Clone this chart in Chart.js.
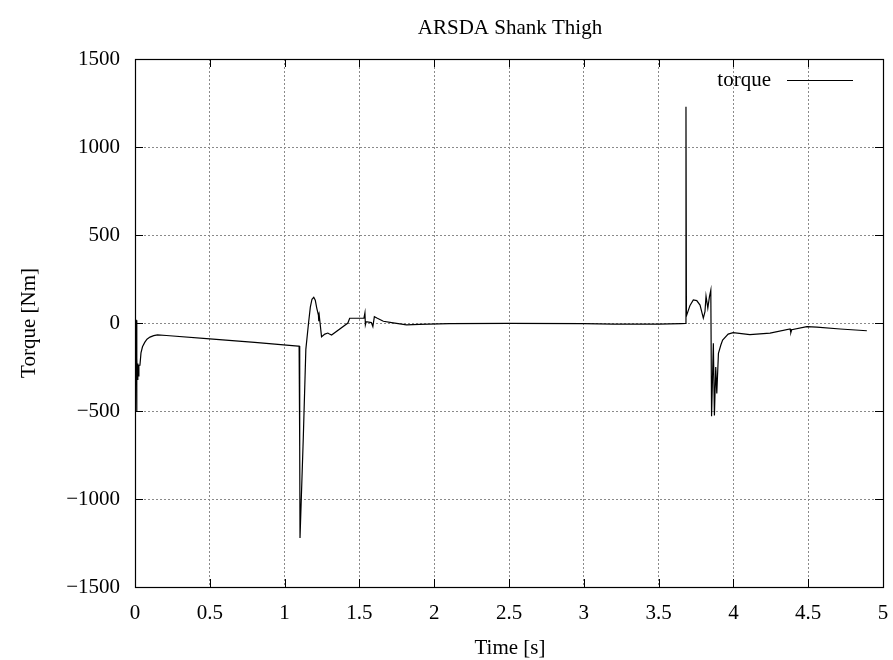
<!DOCTYPE html>
<html>
<head>
<meta charset="utf-8">
<script src="https://cdn.jsdelivr.net/npm/chart.js@4"></script>
<style>
  html, body { margin: 0; padding: 0; background: #ffffff; }
  canvas { display: block; }
</style>
</head>
<body>
<canvas id="c" width="893" height="660"></canvas>
<script>
// Joint torque trace (shank-thigh), sampled over time
const timeSeconds = [
  0.000, 0.008, 0.011, 0.013, 0.016, 0.019, 0.022, 0.026, 0.033, 0.040,
  0.050, 0.065, 0.080, 0.100, 0.125, 0.150, 0.210, 0.500, 0.800, 1.090,
  1.097, 1.101, 1.103, 1.125, 1.142, 1.160, 1.172, 1.183, 1.195, 1.205,
  1.215, 1.226, 1.228, 1.229, 1.232, 1.247, 1.269, 1.289, 1.300, 1.314,
  1.423, 1.435, 1.500, 1.530, 1.537, 1.540, 1.545, 1.580, 1.590, 1.600,
  1.620, 1.660, 1.715, 1.815, 1.900, 2.100, 2.500, 3.000, 3.200, 3.500,
  3.650, 3.680, 3.683, 3.686, 3.710, 3.732, 3.755, 3.777, 3.799, 3.810,
  3.817, 3.829, 3.840, 3.849, 3.854, 3.866, 3.873, 3.882, 3.889, 3.900,
  3.916, 3.928, 3.965, 3.998, 4.110, 4.245, 4.379, 4.384, 4.390, 4.491,
  4.558, 4.714, 4.892
];
const torqueNm = [
    20,    15,  -500,  -200,  -320,  -230,  -300,  -240,  -240,  -170,
  -135,  -110,   -92,   -80,   -72,   -68,   -71,   -90,  -110,  -131,
  -131,  -700, -1222,  -650,  -150,     0,    90,   135,   146,   130,
    85,    45,    60,    10,    40,   -78,   -63,   -57,   -62,   -68,
     0,    27,    27,    27,    58,   -10,     7,     2,   -21,    36,
    27,    10,     2,   -11,    -8,    -4,    -2,    -3,    -6,    -6,
    -3,    -2,  1228,    40,   100,   131,   127,   102,    28,    64,
   153,    85,   150,   187,  -530,  -115,  -525,  -250,  -400,  -172,
  -125,   -97,   -63,   -55,   -66,   -57,   -34,   -55,   -38,   -21,
   -23,   -34,   -44
];

const xTickLabels = ['0', '0.5', '1', '1.5', '2', '2.5', '3', '3.5', '4', '4.5', '5'];
const yTickLabels = ['\u22121500', '\u22121000', '\u2212500', '0', '500', '1000', '1500'];

const seriesName = 'torque';
const chartTitle = 'ARSDA Shank Thigh';
const xAxisTitle = 'Time [s]';
const yAxisTitle = 'Torque [Nm]';

const FONT = '"Liberation Serif", "DejaVu Serif", serif';
const FONT_SIZE = 21;

const points = timeSeconds.map((t, i) => ({ x: t, y: torqueNm[i] }));

// Full box around the plot with small inward ticks on all four sides
const framePlugin = {
  id: 'frame',
  beforeDatasetsDraw(chart) {
    const { ctx, chartArea: a, scales } = chart;
    const len = 8;
    ctx.save();
    ctx.strokeStyle = '#000';
    ctx.lineWidth = 1;
    ctx.beginPath();
    scales.x.ticks.forEach(tk => {
      const px = Math.round(scales.x.getPixelForValue(tk.value)) + 0.5;
      ctx.moveTo(px, a.bottom); ctx.lineTo(px, a.bottom - len);
      ctx.moveTo(px, a.top); ctx.lineTo(px, a.top + len);
    });
    scales.y.ticks.forEach(tk => {
      const py = Math.round(scales.y.getPixelForValue(tk.value)) + 0.5;
      ctx.moveTo(a.left, py); ctx.lineTo(a.left + len, py);
      ctx.moveTo(a.right, py); ctx.lineTo(a.right - len, py);
    });
    ctx.stroke();
    ctx.lineWidth = 1.2;
    ctx.strokeRect(Math.round(a.left) + 0.5, Math.round(a.top) + 0.5,
                   Math.round(a.right - a.left), Math.round(a.bottom - a.top));
    ctx.restore();
  }
};

// Title, axis titles and the key
const textPlugin = {
  id: 'texts',
  afterDraw(chart) {
    const { ctx } = chart;
    ctx.save();
    ctx.fillStyle = '#000';
    ctx.font = FONT_SIZE + 'px ' + FONT;
    ctx.textBaseline = 'middle';
    ctx.textAlign = 'center';
    ctx.fillText(chartTitle, 510, 28);
    ctx.fillText(xAxisTitle, 510, 648);
    ctx.save();
    ctx.translate(29, 323);
    ctx.rotate(-Math.PI / 2);
    ctx.fillText(yAxisTitle, 0, 0);
    ctx.restore();
    ctx.textAlign = 'right';
    ctx.fillText(seriesName, 771, 80);
    ctx.strokeStyle = '#000';
    ctx.lineWidth = 1.2;
    ctx.beginPath();
    ctx.moveTo(787, 80.5);
    ctx.lineTo(853, 80.5);
    ctx.stroke();
    ctx.restore();
  }
};

new Chart(document.getElementById('c'), {
  type: 'scatter',
  data: {
    datasets: [{
      label: seriesName,
      data: points,
      showLine: true,
      borderColor: '#000',
      borderWidth: 1.2,
      pointRadius: 0,
      pointHoverRadius: 0,
      tension: 0,
      fill: false
    }]
  },
  options: {
    responsive: false,
    animation: false,
    devicePixelRatio: 1,
    layout: { padding: { left: 0, top: 59, right: 10, bottom: 0 } },
    plugins: {
      legend: { display: false },
      title: { display: false },
      tooltip: { enabled: false }
    },
    scales: {
      x: {
        type: 'linear',
        min: 0,
        max: 5,
        afterFit(scale) {
          scale.height = 73;
          scale.paddingLeft = 0;
          scale.paddingRight = 0;
        },
        ticks: {
          stepSize: 0.5,
          color: '#000',
          padding: 14,
          maxRotation: 0,
          autoSkip: false,
          font: { family: FONT, size: FONT_SIZE },
          callback: (v, i) => xTickLabels[i]
        },
        grid: { color: '#8a8a8a', lineWidth: 1, drawTicks: false },
        border: { display: true, color: '#000', width: 1, dash: [2, 2] }
      },
      y: {
        type: 'linear',
        min: -1500,
        max: 1500,
        afterFit(scale) {
          scale.width = 135;
          scale.paddingTop = 0;
          scale.paddingBottom = 0;
        },
        ticks: {
          stepSize: 500,
          color: '#000',
          padding: 15,
          autoSkip: false,
          font: { family: FONT, size: FONT_SIZE },
          callback: (v, i) => yTickLabels[i]
        },
        grid: { color: '#8a8a8a', lineWidth: 1, drawTicks: false },
        border: { display: true, color: '#000', width: 1, dash: [2, 2] }
      }
    }
  },
  plugins: [framePlugin, textPlugin]
});
</script>
</body>
</html>
